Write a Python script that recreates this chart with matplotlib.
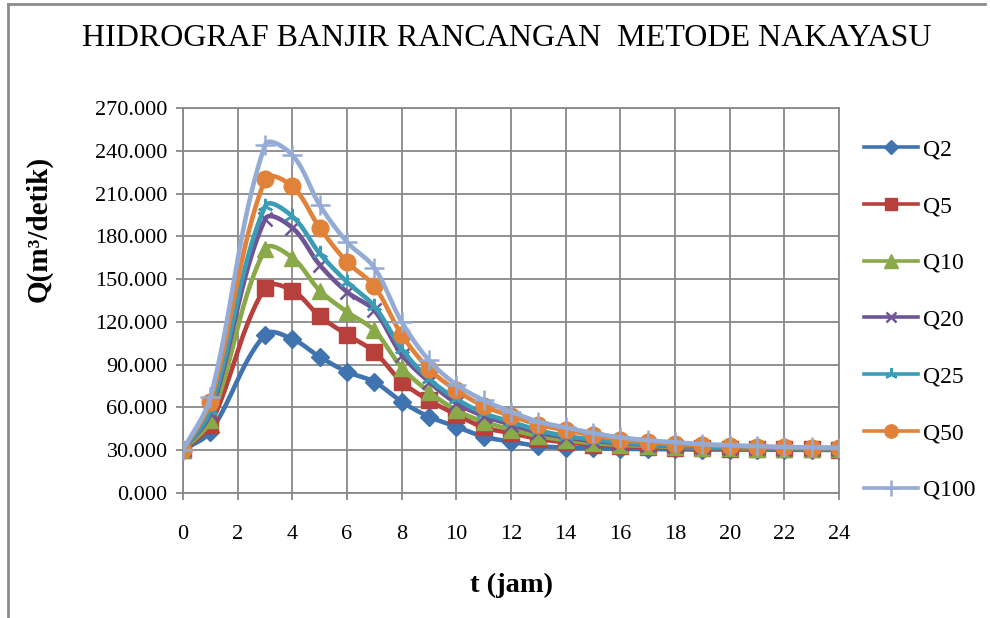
import numpy as np
import matplotlib
matplotlib.use("Agg")
import matplotlib.pyplot as plt
from matplotlib.lines import Line2D
from matplotlib.ticker import FuncFormatter, MultipleLocator

plt.rcParams['font.family'] = ['Liberation Serif', 'DejaVu Serif']

t = [0, 1, 3, 4, 5, 6, 7, 8, 9, 10, 11, 12, 13, 14, 15, 16, 17, 18, 19, 20, 21, 22, 23, 24]
Q2 = [30, 43, 111, 108, 95.5, 85, 78, 64, 53.5, 46.5, 39.5, 36, 33, 31.8, 31.3, 31, 30.8, 30.6, 30.5, 30.4, 30.3, 30.3, 30.2, 30.2]
Q5 = [30, 48, 144, 142, 124, 111, 99, 78, 65, 55, 46, 42, 38, 35.5, 34, 33, 32.3, 31.8, 31.4, 31.1, 30.9, 30.7, 30.6, 30.5]
Q10 = [30, 51, 171, 165, 142, 127, 114, 88, 71, 58, 50, 44.5, 40, 37, 35, 33.8, 33, 32.3, 31.8, 31.4, 31.1, 30.9, 30.7, 30.6]
Q20 = [30, 56, 192, 186, 160, 141, 128, 97, 78, 63, 54, 48, 42.5, 39, 36.5, 35, 33.8, 33, 32.3, 31.8, 31.4, 31.1, 30.9, 30.8]
Q25 = [30, 58, 201, 194, 168, 148, 131, 101, 80, 66, 56, 50, 44, 40, 37.5, 35.5, 34.2, 33.2, 32.5, 32, 31.6, 31.3, 31.1, 30.9]
Q50 = [30, 64, 220, 215, 186, 162, 145, 111, 87, 72, 61, 54, 48, 44, 40.5, 37.5, 36, 34.5, 33.6, 33, 32.3, 32, 31.6, 31.5]
Q100 = [30, 67, 244, 237, 202, 176, 158, 120, 93, 76, 65, 57, 50, 46, 42, 39, 37, 35.5, 34.3, 33.5, 32.8, 32.3, 32, 31.8]

labels = ["Q2", "Q5", "Q10", "Q20", "Q25", "Q50", "Q100"]
series = [Q2, Q5, Q10, Q20, Q25, Q50, Q100]
colors = ["#3F74B0", "#B7403C", "#8AAA4A", "#6F5596", "#3B9CB5", "#E0823A", "#94ABD5"]
markers = ["D", "s", "^", "x", (3, 2, 0), "o", "+"]
msizes = [9.5, 11, 12, 9.5, 11, 12, 14]
mews = [1, 1, 1, 1.8, 1.8, 1, 1.8]

XMAX, YMAX = 24.0, 270.0
W_PX, H_PX = 656.0, 385.0


def smooth(x, y, n=30):
    # cubic Bezier smoothing computed in screen-like space (Excel-style)
    P = np.column_stack([np.asarray(x, float) * W_PX / XMAX, np.asarray(y, float) * H_PX / YMAX])
    out = [P[0]]
    m = len(P)
    for i in range(m - 1):
        p0 = P[i - 1] if i > 0 else P[i]
        p1 = P[i]
        p2 = P[i + 1]
        p3 = P[i + 2] if i + 2 < m else P[i + 1]
        d = np.linalg.norm(p2 - p1)
        t1 = p2 - p0
        t1 = t1 / (np.linalg.norm(t1) + 1e-12)
        t2 = p3 - p1
        t2 = t2 / (np.linalg.norm(t2) + 1e-12)
        c1 = p1 + t1 * d / 3.0
        c2 = p2 - t2 * d / 3.0
        s = np.linspace(0, 1, n)[1:, None]
        b = ((1 - s) ** 3) * p1 + 3 * ((1 - s) ** 2) * s * c1 + 3 * (1 - s) * s ** 2 * c2 + s ** 3 * p2
        out.extend(b)
    out = np.array(out)
    return out[:, 0] * XMAX / W_PX, out[:, 1] * YMAX / H_PX


fig = plt.figure(figsize=(9.9, 6.18), dpi=100)
ax = fig.add_axes([183 / 990, 125 / 618, 656 / 990, 385 / 618])

for i, (lab, ys) in enumerate(zip(labels, series)):
    sx, sy = smooth(t, ys)
    ax.plot(sx, sy, color=colors[i], lw=3.3, solid_capstyle='round', zorder=3 + i)
    ax.plot(t, ys, linestyle='none', marker=markers[i], ms=msizes[i], color=colors[i],
            mec=colors[i], mew=mews[i], zorder=3 + i)

ax.set_xlim(0, XMAX)
ax.set_ylim(0, YMAX)
ax.xaxis.set_major_locator(MultipleLocator(2))
ax.yaxis.set_major_locator(MultipleLocator(30))
ax.yaxis.set_major_formatter(FuncFormatter(lambda v, p: f"{v:.3f}"))
ax.grid(True, color="#888888", lw=1.3, zorder=0)
ax.set_axisbelow(True)
for s in ax.spines.values():
    s.set_color("#888888")
    s.set_linewidth(1.3)
ax.tick_params(axis='both', labelsize=16, color="#888888", length=5, width=1.3, direction='out')
ax.tick_params(axis='x', pad=18)
ax.tick_params(axis='y', pad=6)

ax.set_xlabel("t (jam)", fontsize=20.5, fontweight='bold')
ax.xaxis.set_label_coords(0.5, -0.207)
ax.set_ylabel("Q(m³/detik)", fontsize=21, fontweight='bold')
ax.yaxis.set_label_coords(-0.198, 0.685)

fig.text(0.512, 0.938, "HIDROGRAF BANJIR RANCANGAN  METODE NAKAYASU", ha='center', va='center', fontsize=23)

handles = [Line2D([0], [0], color=colors[i], lw=2.6, marker=markers[i], ms=msizes[i] * 0.8,
                  mec=colors[i], mew=mews[i]) for i in range(len(labels))]
fig.legend(handles, labels, loc='upper left', bbox_to_anchor=(864 / 990, 1 - 139 / 618),
           frameon=False, fontsize=17, handlelength=2.3, labelspacing=1.49, handletextpad=0.2,
           borderaxespad=0, borderpad=0)

fig.add_artist(Line2D([8 / 990, 8 / 990], [0, 1 - 4 / 618], transform=fig.transFigure, color="#8C8C8C", lw=2))
fig.add_artist(Line2D([8 / 990, 985 / 990], [1 - 4 / 618, 1 - 4 / 618], transform=fig.transFigure, color="#8C8C8C", lw=2))

fig.savefig("out.png", dpi=100)
